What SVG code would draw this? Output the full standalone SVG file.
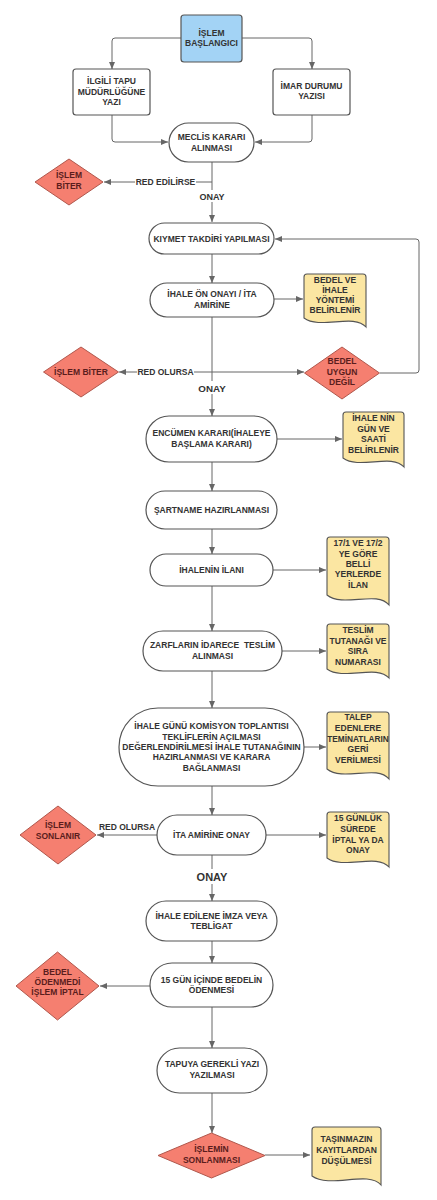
<svg xmlns="http://www.w3.org/2000/svg" width="437" height="1200" viewBox="0 0 437 1200">
<defs>
<marker id="ah" markerUnits="userSpaceOnUse" markerWidth="8" markerHeight="8" refX="7" refY="4" orient="auto">
<path d="M0,1 L7,4 L0,7 Z" fill="#666"/>
</marker>
<style>
.n{fill:#fff;stroke:#555;stroke-width:1.2}
.s{fill:#a3d3f5;stroke:#555;stroke-width:1.2}
.d{fill:#f57f70;stroke:#b0574c;stroke-width:1}
.doc{fill:#fbe6a2;stroke:#555;stroke-width:1.1}
.c{fill:none;stroke:#666;stroke-width:1}
.ca{fill:none;stroke:#666;stroke-width:1;marker-end:url(#ah)}
text{font-family:"Liberation Sans",Arial,sans-serif;font-weight:bold;font-size:8.5px;fill:#333;text-anchor:middle}
.dt{fill:#5a1d1d}
.bg{fill:#fff}
</style>
</defs>
<rect width="437" height="1200" fill="#fff"/>
<g id="connectors">
<path class="ca" d="M181,38 H115 Q112,38 112,41 V69"/>
<path class="ca" d="M242,38 H309 Q312,38 312,41 V69"/>
<path class="ca" d="M112,115 V139 Q112,142 115,142 H168"/>
<path class="ca" d="M312,115 V139 Q312,142 309,142 H255"/>
<path class="ca" d="M212,162 V222"/>
<path class="ca" d="M212,182 H104"/>
<path class="ca" d="M212,254 V283"/>
<path class="ca" d="M274,299 H303"/>
<path class="ca" d="M212,317 V416"/>
<path class="ca" d="M212,372 H119"/>
<path class="ca" d="M212,372 H304"/>
<path class="ca" d="M380,373 H416 Q419,373 419,370 V242 Q419,239 416,239 H275"/>
<path class="ca" d="M277,439 H342"/>
<path class="ca" d="M212,462 V491"/>
<path class="ca" d="M212,529 V554"/>
<path class="ca" d="M273,570 H326"/>
<path class="ca" d="M212,586 V631"/>
<path class="ca" d="M282,651 H326"/>
<path class="ca" d="M212,671 V708"/>
<path class="ca" d="M304,747 H326"/>
<path class="ca" d="M212,786 V815"/>
<path class="ca" d="M157,835 H97"/>
<path class="ca" d="M266,835 H326"/>
<path class="ca" d="M212,855 V901"/>
<path class="ca" d="M212,941 V963"/>
<path class="ca" d="M150,986 H100"/>
<path class="ca" d="M212,1007 V1048"/>
<path class="ca" d="M212,1093 V1133"/>
<path class="ca" d="M265,1155 H310"/>
<rect class="bg" x="135" y="176" width="61" height="11"/>
<text x="165.5" y="185">RED EDİLİRSE</text>
<rect class="bg" x="197" y="190" width="30" height="12"/>
<text x="212" y="199.5" style="font-size:9px">ONAY</text>
<rect class="bg" x="137" y="366" width="57" height="11"/>
<text x="165.5" y="375">RED OLURSA</text>
<rect class="bg" x="196" y="381" width="32" height="13"/>
<text x="212" y="391.5" style="font-size:9.8px">ONAY</text>
<text x="127" y="830">RED OLURSA</text>
<rect class="bg" x="194" y="869" width="36" height="15"/>
<text x="212" y="881" style="font-size:11px">ONAY</text>
</g>
<g id="start">
<rect class="s" x="181" y="15" width="61" height="47" rx="3"/>
<text x="211.5" y="36">İŞLEM</text>
<text x="211.5" y="46">BAŞLANGICI</text>
</g>
<g id="ilgili">
<rect class="n" x="73" y="69" width="77" height="46" rx="3"/>
<text x="111.5" y="84">İLGİLİ TAPU</text>
<text x="111.5" y="94.5">MÜDÜRLÜĞÜNE</text>
<text x="111.5" y="105">YAZI</text>
</g>
<g id="imar">
<rect class="n" x="273" y="69" width="77" height="46" rx="3"/>
<text x="311.5" y="89">İMAR DURUMU</text>
<text x="311.5" y="99">YAZISI</text>
</g>
<g id="meclis">
<rect class="n" x="169" y="123" width="85" height="39" rx="19.5"/>
<text x="211.5" y="140">MECLİS KARARI</text>
<text x="211.5" y="150.5">ALINMASI</text>
</g>
<g id="biter1">
<polygon class="d" points="69,159 103,182 69,205 35,182"/>
<text class="dt" x="69" y="178">İŞLEM</text>
<text class="dt" x="69" y="189">BİTER</text>
</g>
<g id="kiymet">
<rect class="n" x="149" y="223" width="125" height="31" rx="15.5"/>
<text x="211.5" y="241.5">KIYMET TAKDİRİ YAPILMASI</text>
</g>
<g id="ononay">
<rect class="n" x="150" y="283" width="124" height="34" rx="17"/>
<text x="212" y="297">İHALE ÖN ONAYI / İTA</text>
<text x="212" y="308">AMİRİNE</text>
</g>
<g id="bedelyontem">
<path class="doc" d="M307,274 H363 Q366,274 366,277 V327 C354,313 320,330 304,318 V277 Q304,274 307,274 Z"/>
<text x="335" y="283">BEDEL VE</text>
<text x="335" y="293">İHALE</text>
<text x="335" y="303">YÖNTEMİ</text>
<text x="335" y="313">BELİRLENİR</text>
</g>
<g id="biter2">
<polygon class="d" points="81,347 118.5,372 81,397 43.5,372"/>
<text class="dt" x="81" y="375">İŞLEM BİTER</text>
</g>
<g id="bedeluygun">
<polygon class="d" points="342,347 379.5,373 342,399 304.5,373"/>
<text class="dt" x="342" y="364">BEDEL</text>
<text class="dt" x="342" y="374.5">UYGUN</text>
<text class="dt" x="342" y="385">DEĞİL</text>
</g>
<g id="encumen">
<rect class="n" x="146" y="416" width="131" height="46" rx="23"/>
<text x="211.5" y="436">ENCÜMEN KARARI(İHALEYE</text>
<text x="211.5" y="446.5">BAŞLAMA KARARI)</text>
</g>
<g id="gunsaat">
<path class="doc" d="M346,412 H401 Q404,412 404,415 V467 C392,453 359,470 343,458 V415 Q343,412 346,412 Z"/>
<text x="373.5" y="421">İHALE NİN</text>
<text x="373.5" y="431.5">GÜN VE</text>
<text x="373.5" y="442">SAATİ</text>
<text x="373.5" y="452.5">BELİRLENİR</text>
</g>
<g id="sartname">
<rect class="n" x="146" y="491" width="131" height="38" rx="19"/>
<text x="211.5" y="513">ŞARTNAME HAZIRLANMASI</text>
</g>
<g id="ilan">
<rect class="n" x="150" y="554" width="123" height="32" rx="16"/>
<text x="211.5" y="573">İHALENİN İLANI</text>
</g>
<g id="ilandoc">
<path class="doc" d="M330,537 H386 Q389,537 389,540 V605 C377,590 343,608 327,595 V540 Q327,537 330,537 Z"/>
<text x="358" y="546">17/1 VE 17/2</text>
<text x="358" y="556.5">YE GÖRE</text>
<text x="358" y="567">BELLİ</text>
<text x="358" y="577">YERLERDE</text>
<text x="358" y="587.5">İLAN</text>
</g>
<g id="zarflar">
<rect class="n" x="143" y="631" width="139" height="40" rx="20"/>
<text x="212.5" y="648" xml:space="preserve">ZARFLARIN İDARECE  TESLİM</text>
<text x="212.5" y="659">ALINMASI</text>
</g>
<g id="teslimdoc">
<path class="doc" d="M330,624 H386 Q389,624 389,627 V678 C377,664 343,681 327,669 V627 Q327,624 330,624 Z"/>
<text x="358" y="633">TESLİM</text>
<text x="358" y="643.5">TUTANAĞI VE</text>
<text x="358" y="654">SIRA</text>
<text x="358" y="664.5">NUMARASI</text>
</g>
<g id="ihalegunu">
<rect class="n" x="119" y="708" width="185" height="78" rx="39"/>
<text x="211.5" y="729">İHALE GÜNÜ KOMİSYON TOPLANTISI</text>
<text x="211.5" y="739.5">TEKLİFLERİN AÇILMASI</text>
<text x="211.5" y="749.5">DEĞERLENDİRİLMESİ İHALE TUTANAĞININ</text>
<text x="211.5" y="760">HAZIRLANMASI VE KARARA</text>
<text x="211.5" y="770.5">BAĞLANMASI</text>
</g>
<g id="talepdoc">
<path class="doc" d="M330,712 H386 Q389,712 389,715 V779 C377,764 343,782 327,769 V715 Q327,712 330,712 Z"/>
<text x="358" y="720">TALEP</text>
<text x="358" y="731">EDENLERE</text>
<text x="358" y="741.5" style="font-size:8.3px">TEMİNATLARIN</text>
<text x="358" y="752">GERİ</text>
<text x="358" y="762.5">VERİLMESİ</text>
</g>
<g id="ita">
<rect class="n" x="157" y="815" width="109" height="40" rx="20"/>
<text x="211.5" y="838">İTA AMİRİNE ONAY</text>
</g>
<g id="sonlanir">
<polygon class="d" points="58,806 96,835 58,864 20,835"/>
<text class="dt" x="58" y="828">İŞLEM</text>
<text class="dt" x="58" y="839">SONLANIR</text>
</g>
<g id="onbesdoc">
<path class="doc" d="M330,812 H386 Q389,812 389,815 V867 C377,853 343,870 327,858 V815 Q327,812 330,812 Z"/>
<text x="358" y="821">15 GÜNLÜK</text>
<text x="358" y="832">SÜREDE</text>
<text x="358" y="842.5">İPTAL YA DA</text>
<text x="358" y="853">ONAY</text>
</g>
<g id="imza">
<rect class="n" x="146" y="901" width="131" height="40" rx="20"/>
<text x="211.5" y="919">İHALE EDİLENE İMZA VEYA</text>
<text x="211.5" y="928.5">TEBLİGAT</text>
</g>
<g id="odeme">
<rect class="n" x="150" y="963" width="123" height="44" rx="22"/>
<text x="211.5" y="983">15 GÜN İÇİNDE BEDELİN</text>
<text x="211.5" y="993">ÖDENMESİ</text>
</g>
<g id="iptal">
<polygon class="d" points="57.5,952 99,986 57.5,1020 16,986"/>
<text class="dt" x="57.5" y="975">BEDEL</text>
<text class="dt" x="57.5" y="985">ÖDENMEDİ</text>
<text class="dt" x="57.5" y="995">İŞLEM İPTAL</text>
</g>
<g id="tapuya">
<rect class="n" x="157" y="1048" width="110" height="45" rx="22.5"/>
<text x="212" y="1067">TAPUYA GEREKLİ YAZI</text>
<text x="212" y="1078">YAZILMASI</text>
</g>
<g id="sonlanmasi">
<polygon class="d" points="211.5,1133 265,1155.5 211.5,1178 158,1155.5"/>
<text class="dt" x="211.5" y="1152">İŞLEMİN</text>
<text class="dt" x="211.5" y="1163">SONLANMASI</text>
</g>
<g id="tasinmazdoc">
<path class="doc" d="M315,1127 H378 Q381,1127 381,1130 V1185 C368,1170 330,1189 312,1176 V1130 Q312,1127 315,1127 Z"/>
<text x="346.5" y="1142">TAŞINMAZIN</text>
<text x="346.5" y="1153">KAYITLARDAN</text>
<text x="346.5" y="1164">DÜŞÜLMESİ</text>
</g>
</svg>
